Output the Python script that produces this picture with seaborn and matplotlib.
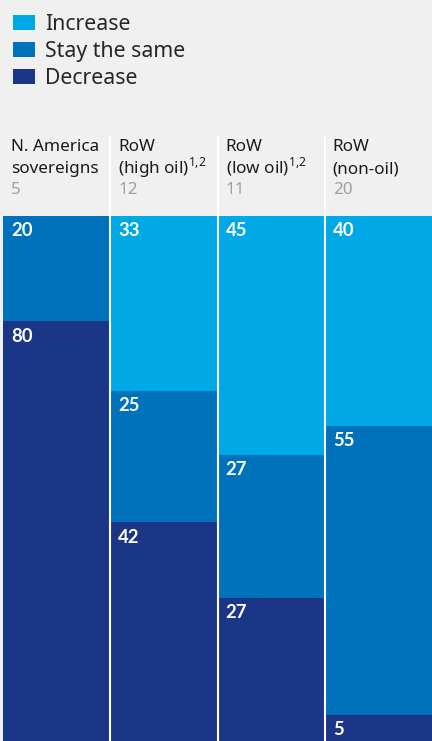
import matplotlib
matplotlib.use("Agg")
import matplotlib.pyplot as plt
from matplotlib.patches import Patch
import pandas as pd
import seaborn as sns

# data (share of respondents, %)
categories = ["N. America\nsovereigns", "RoW\n(high oil)$^{1{,}2}$", "RoW\n(low oil)$^{1{,}2}$", "RoW\n(non-oil)"]
counts = [5, 12, 11, 20]
increase = [0, 33.33, 45.45, 40.0]
stay = [20.0, 25.0, 27.27, 55.0]
decrease = [80.0, 41.67, 27.27, 5.0]
series = ["Increase", "Stay the same", "Decrease"]
colors = ["#00a9e6", "#0071bb", "#1b3687"]

bg = "#f0f0f0"
sns.set_theme(style="white")
plt.rcParams["font.family"] = ["Noto Sans", "DejaVu Sans"]
plt.rcParams["mathtext.fontset"] = "custom"
plt.rcParams["mathtext.rm"] = "Noto Sans"

df = pd.DataFrame({"cat": categories, "Increase": increase,
                   "Stay the same": stay, "Decrease": decrease})
df["c1"] = df["Increase"]
df["c2"] = df["c1"] + df["Stay the same"]
df["c3"] = df["c2"] + df["Decrease"]

W, H = 432, 741
fig = plt.figure(figsize=(W / 100, H / 100), dpi=100, facecolor=bg)
ax = fig.add_axes([3 / W, 0, 429 / W, 525 / H])
ax.set_facecolor(bg)

# stacked bars: draw cumulative totals, largest first
for col, c in zip(["c3", "c2", "c1"], colors[::-1]):
    sns.barplot(data=df, x="cat", y=col, color=c, saturation=1, width=1,
                linewidth=0, ax=ax)

ax.set_xlim(-0.5, 3.5)
ax.set_ylim(100, 0)
ax.axis("off")

px = 100 / 525  # data units per pixel
colw = 4 / 429

# white separators, running up into the header
ax.vlines([0.5, 1.5, 2.5], -79 * px, 100, color="white", lw=1.5, clip_on=False)

# segment value labels
for i in range(len(categories)):
    start = 0
    for name in series:
        v = df.loc[i, name]
        if v > 0:
            ax.text(i - 0.5 + 8 * colw, start + 20.5 * px, f"{v:.0f}",
                    color="white", fontsize=13.3, fontweight="bold",
                    family="Lato", ha="left", va="baseline")
        start += v

# column headers
for i, (cat, n) in enumerate(zip(categories, counts)):
    x = i - 0.5 + 8 * colw
    l1, l2 = cat.split("\n")
    ax.text(x, -65 * px, l1, fontsize=12.3, color="#1a1a1a", va="baseline")
    ax.text(x, -43 * px, l2, fontsize=12.3, color="#1a1a1a", va="baseline")
    ax.text(x, -22 * px, str(n), fontsize=12.3, color="#a0a0a0", va="baseline")

handles = [Patch(facecolor=c, edgecolor="none") for c in colors]
fig.legend(handles, series, loc="upper left", bbox_to_anchor=(13 / W, 1 - 14 / H),
           frameon=False, fontsize=15.3, handlelength=1.05, handleheight=0.75,
           handletextpad=0.45, labelspacing=0.28, borderpad=0, borderaxespad=0)

fig.savefig("out.png", dpi=100, facecolor=bg)
